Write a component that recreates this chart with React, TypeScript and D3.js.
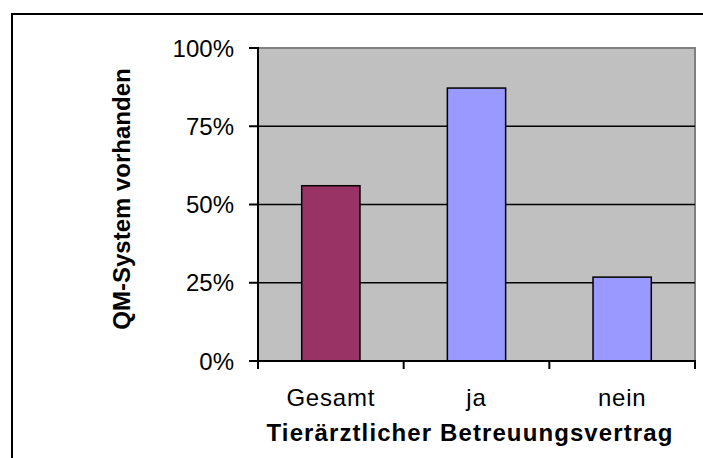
import React from "react";
import * as d3 from "d3";

const categories = ["Gesamt", "ja", "nein"];
const values = [0.56, 0.872, 0.268];
const barColors = ["#993366", "#9999FF", "#9999FF"];
const yTicks = [0, 0.25, 0.5, 0.75, 1];
const xTitle = "Tierärztlicher Betreuungsvertrag";
const yTitle = "QM-System vorhanden";

export default function App() {
  const W = 703, H = 458;
  const left = 258, right = 695, top = 48, bottom = 361;
  const x = d3.scaleBand<string>().domain(categories).range([left, right]).paddingInner(0).paddingOuter(0);
  const y = d3.scaleLinear().domain([0, 1]).range([bottom, top]);
  const bw = x.bandwidth() * 0.4;
  const font = "Arial, 'Liberation Sans', sans-serif";
  const fmt = d3.format(".0%");
  return (
    <svg width={W} height={H} style={{ position: "absolute", left: 0, top: 0, background: "#fff" }} fontFamily={font}>
      <rect x={12} y={14} width={720} height={480} fill="#fff" stroke="#000" strokeWidth={2} />
      <rect x={left} y={top} width={right - left} height={bottom - top} fill="#C0C0C0" stroke="#808080" strokeWidth={2} />
      {yTicks.filter(t => t > 0 && t < 1).map(t => (
        <line key={t} x1={left} x2={right} y1={y(t)} y2={y(t)} stroke="#000" strokeWidth={1.5} />
      ))}
      {categories.map((c, i) => {
        const cx = (x(c) as number) + x.bandwidth() / 2;
        return (
          <rect key={c} x={cx - bw / 2} y={y(values[i])} width={bw} height={bottom - y(values[i])}
            fill={barColors[i]} stroke="#000" strokeWidth={1.5} />
        );
      })}
      <line x1={left} x2={left} y1={top - 1} y2={bottom + 8} stroke="#000" strokeWidth={2} />
      <line x1={left - 9} x2={right + 1} y1={bottom} y2={bottom} stroke="#000" strokeWidth={2} />
      {yTicks.map(t => (
        <g key={t}>
          <line x1={left - 9} x2={left} y1={y(t)} y2={y(t)} stroke="#000" strokeWidth={2} />
          <text x={234} y={y(t)} dy="0.36em" textAnchor="end" fontSize={24} fill="#000">{fmt(t)}</text>
        </g>
      ))}
      {categories.map((c, i) => (
        <line key={"t" + c} x1={(x(c) as number) + x.bandwidth()} x2={(x(c) as number) + x.bandwidth()} y1={bottom} y2={bottom + 8} stroke="#000" strokeWidth={2} />
      ))}
      {categories.map(c => (
        <text key={"l" + c} x={(x(c) as number) + x.bandwidth() / 2} y={406} textAnchor="middle" fontSize={24} letterSpacing={0.8} fill="#000">{c}</text>
      ))}
      <text x={470} y={441} textAnchor="middle" fontSize={24} letterSpacing={1.1} fontWeight="bold" fill="#000">{xTitle}</text>
      <text transform={`translate(130,199) rotate(-90)`} textAnchor="middle" fontSize={24} fontWeight="bold" fill="#000">{yTitle}</text>
    </svg>
  );
}
